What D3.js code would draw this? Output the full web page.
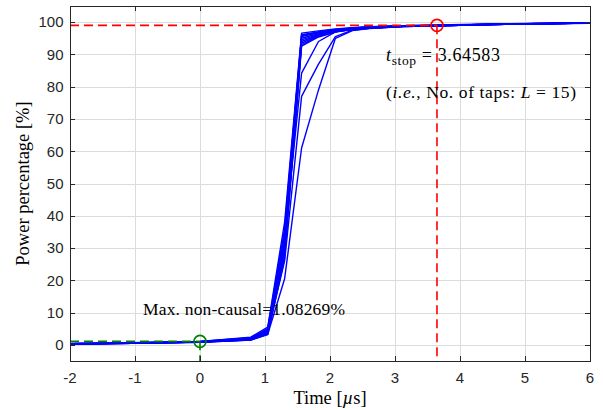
<!DOCTYPE html>
<html>
<head>
<meta charset="utf-8">
<script src="https://cdn.jsdelivr.net/npm/d3@7"></script>
<style>
  html, body { margin: 0; padding: 0; background: #fff; }
  svg { display: block; }
</style>
</head>
<body>
<svg id="chart" width="603" height="410"></svg>
<script>
// Tap instants in microseconds (sample period 0.260417 µs)
const tapTimes = [-2.083, -1.042, 0, 0.781, 1.042, 1.302, 1.563, 1.823, 2.083, 2.344, 2.604, 3.125, 3.646, 4.688, 6.25];

// Cumulative power percentage of each channel realisation at the tap instants
const powerCurves = [
  [0.30, 0.60, 1.05, 2.40, 5.5, 38.0, 96.6, 97.3, 97.9, 98.3, 98.6, 98.9, 99.1, 99.5, 99.9],
  [0.40, 0.70, 1.08, 2.20, 5.0, 36.0, 96.1, 97.0, 97.7, 98.2, 98.5, 98.9, 99.0, 99.4, 99.9],
  [0.35, 0.65, 1.00, 2.10, 4.8, 35.0, 95.8, 96.9, 97.6, 98.2, 98.5, 98.9, 99.0, 99.4, 99.9],
  [0.30, 0.60, 0.95, 2.00, 4.6, 34.0, 95.5, 96.7, 97.5, 98.1, 98.4, 98.8, 99.0, 99.4, 99.8],
  [0.20, 0.50, 0.90, 1.80, 4.2, 32.0, 95.0, 96.4, 97.4, 98.0, 98.4, 98.8, 99.0, 99.4, 99.8],
  [0.30, 0.60, 1.00, 1.90, 4.0, 31.0, 94.5, 96.2, 97.3, 97.9, 98.3, 98.8, 99.0, 99.4, 99.8],
  [0.20, 0.50, 0.85, 1.70, 3.8, 30.0, 94.0, 96.0, 97.2, 97.9, 98.3, 98.7, 98.9, 99.4, 99.8],
  [0.30, 0.55, 0.90, 1.60, 3.6, 29.0, 93.5, 95.8, 97.1, 97.8, 98.2, 98.7, 98.9, 99.3, 99.8],
  [0.25, 0.50, 0.80, 1.50, 3.4, 28.0, 93.0, 95.6, 97.0, 97.8, 98.2, 98.7, 98.9, 99.3, 99.8],
  [0.20, 0.45, 0.80, 1.50, 3.2, 27.0, 92.6, 95.4, 96.9, 97.7, 98.1, 98.6, 98.9, 99.3, 99.7],
  [0.30, 0.60, 0.95, 1.90, 4.4, 33.0, 84.2, 94.0, 97.0, 97.8, 98.2, 98.7, 98.9, 99.3, 99.8],
  [0.25, 0.55, 0.90, 1.70, 3.9, 26.0, 77.0, 87.0, 95.5, 97.5, 98.1, 98.6, 98.9, 99.3, 99.8],
  [0.20, 0.50, 0.85, 1.60, 3.3, 20.5, 61.0, 79.0, 95.0, 97.4, 98.0, 98.6, 98.9, 99.3, 99.8]
];

const xTicks = [-2, -1, 0, 1, 2, 3, 4, 5, 6];
const yTicks = [0, 10, 20, 30, 40, 50, 60, 70, 80, 90, 100];

const tStop = 3.64583;        // µs, end of the retained taps
const stopPercent = 99;       // power threshold used for t_stop
const maxNonCausal = 1.08269; // % of power before t = 0
const numTaps = 15;

const svg = d3.select("#chart");
const plot = { left: 70, right: 590, top: 6, bottom: 361 };

const x = d3.scaleLinear().domain([-2, 6]).range([plot.left, plot.right]);
const y = d3.scaleLinear().domain([-5, 105]).range([plot.bottom, plot.top]);

const axisColor = "#262626";
const tickFont = "'Liberation Sans', Arial, Helvetica, sans-serif";
const serif = "'Liberation Serif', 'Times New Roman', serif";

svg.append("defs").append("clipPath").attr("id", "plotClip")
  .append("rect")
  .attr("x", plot.left).attr("y", plot.top)
  .attr("width", plot.right - plot.left).attr("height", plot.bottom - plot.top);

// Grid lines
const grid = svg.append("g").attr("stroke", "#dcdcdc").attr("stroke-width", 1);
grid.selectAll("line.gx").data(xTicks).join("line")
  .attr("x1", d => Math.round(x(d)) + 0.5).attr("x2", d => Math.round(x(d)) + 0.5)
  .attr("y1", plot.top).attr("y2", plot.bottom);
grid.selectAll("line.gy").data(yTicks).join("line")
  .attr("y1", d => Math.round(y(d)) + 0.5).attr("y2", d => Math.round(y(d)) + 0.5)
  .attr("x1", plot.left).attr("x2", plot.right);

// Power curves
const line = d3.line().x((d, i) => x(tapTimes[i])).y(d => y(d));
svg.append("g").attr("clip-path", "url(#plotClip)")
  .selectAll("path").data(powerCurves).join("path")
  .attr("d", line)
  .attr("fill", "none")
  .attr("stroke", "#0000ff")
  .attr("stroke-width", 1.4)
  .attr("stroke-linejoin", "round");

// Non-causal power marker (green)
const green = "#008000";
const red = "#ff0000";
const dash = "9,5";
const marks = svg.append("g").attr("fill", "none").attr("stroke-width", 1.6);
marks.append("line")
  .attr("x1", x(-2)).attr("x2", x(0))
  .attr("y1", y(maxNonCausal)).attr("y2", y(maxNonCausal))
  .attr("stroke", green).attr("stroke-dasharray", dash);
marks.append("line")
  .attr("x1", x(0)).attr("x2", x(0))
  .attr("y1", y(maxNonCausal)).attr("y2", y(-5))
  .attr("stroke", green).attr("stroke-dasharray", dash);
marks.append("circle")
  .attr("cx", x(0)).attr("cy", y(maxNonCausal)).attr("r", 6)
  .attr("stroke", green);

// Stop time marker (red)
marks.append("line")
  .attr("x1", x(-2)).attr("x2", x(tStop))
  .attr("y1", y(stopPercent)).attr("y2", y(stopPercent))
  .attr("stroke", red).attr("stroke-dasharray", dash);
marks.append("line")
  .attr("x1", x(tStop)).attr("x2", x(tStop))
  .attr("y1", y(stopPercent)).attr("y2", y(-5))
  .attr("stroke", red).attr("stroke-dasharray", dash);
marks.append("circle")
  .attr("cx", x(tStop)).attr("cy", y(stopPercent)).attr("r", 6)
  .attr("stroke", red);

// Annotations
const notes = svg.append("g").attr("font-family", serif).attr("fill", "#000");

const tStopText = notes.append("text")
  .attr("x", 386).attr("y", 61).attr("font-size", 18)
  .attr("textLength", 114).attr("lengthAdjust", "spacing");
tStopText.append("tspan").attr("font-style", "italic").text("t");
tStopText.append("tspan").attr("font-size", 13.5).attr("dy", 4).text("stop");
tStopText.append("tspan").attr("dy", -4).text(" = " + tStop.toFixed(5));

const tapsText = notes.append("text")
  .attr("x", 386).attr("y", 98).attr("font-size", 17.5)
  .attr("textLength", 190).attr("lengthAdjust", "spacing");
tapsText.append("tspan").text("(");
tapsText.append("tspan").attr("font-style", "italic").text("i.e.");
tapsText.append("tspan").text(",  No.  of taps:  ");
tapsText.append("tspan").attr("font-style", "italic").text("L");
tapsText.append("tspan").text(" = " + numTaps + ")");

notes.append("text")
  .attr("x", 143).attr("y", 315).attr("font-size", 17.5)
  .attr("textLength", 202).attr("lengthAdjust", "spacing")
  .text("Max.  non-causal=" + maxNonCausal.toFixed(5) + "%");

// Axis box with inward ticks on all four sides
const axes = svg.append("g").attr("stroke", axisColor).attr("stroke-width", 1).attr("fill", "none");
axes.append("rect")
  .attr("x", plot.left + 0.5).attr("y", plot.top + 0.5)
  .attr("width", plot.right - plot.left).attr("height", plot.bottom - plot.top);

const tickLen = 5;
xTicks.forEach(t => {
  const px = Math.round(x(t)) + 0.5;
  axes.append("line").attr("x1", px).attr("x2", px).attr("y1", plot.bottom).attr("y2", plot.bottom - tickLen);
  axes.append("line").attr("x1", px).attr("x2", px).attr("y1", plot.top).attr("y2", plot.top + tickLen);
});
yTicks.forEach(v => {
  const py = Math.round(y(v)) + 0.5;
  axes.append("line").attr("y1", py).attr("y2", py).attr("x1", plot.left).attr("x2", plot.left + tickLen);
  axes.append("line").attr("y1", py).attr("y2", py).attr("x1", plot.right).attr("x2", plot.right - tickLen);
});

// Tick labels
const labels = svg.append("g").attr("font-family", tickFont).attr("font-size", 15).attr("fill", axisColor);
labels.selectAll("text.xl").data(xTicks).join("text")
  .attr("x", d => x(d)).attr("y", 383)
  .attr("text-anchor", "middle")
  .text(d => d);
labels.selectAll("text.yl").data(yTicks).join("text")
  .attr("x", 63.5).attr("y", d => y(d) + 5.3)
  .attr("text-anchor", "end")
  .text(d => d);

// Axis titles
const xTitle = svg.append("text")
  .attr("x", (plot.left + plot.right) / 2).attr("y", 404)
  .attr("text-anchor", "middle")
  .attr("font-family", serif).attr("font-size", 18.5).attr("fill", "#000");
xTitle.append("tspan").text("Time [");
xTitle.append("tspan").attr("font-style", "italic").text("µ");
xTitle.append("tspan").text("s]");

svg.append("text")
  .attr("transform", `translate(29, ${(plot.top + plot.bottom) / 2}) rotate(-90)`)
  .attr("text-anchor", "middle")
  .attr("font-family", serif).attr("font-size", 18.5).attr("fill", "#000")
  .text("Power percentage [%]");
</script>
</body>
</html>
